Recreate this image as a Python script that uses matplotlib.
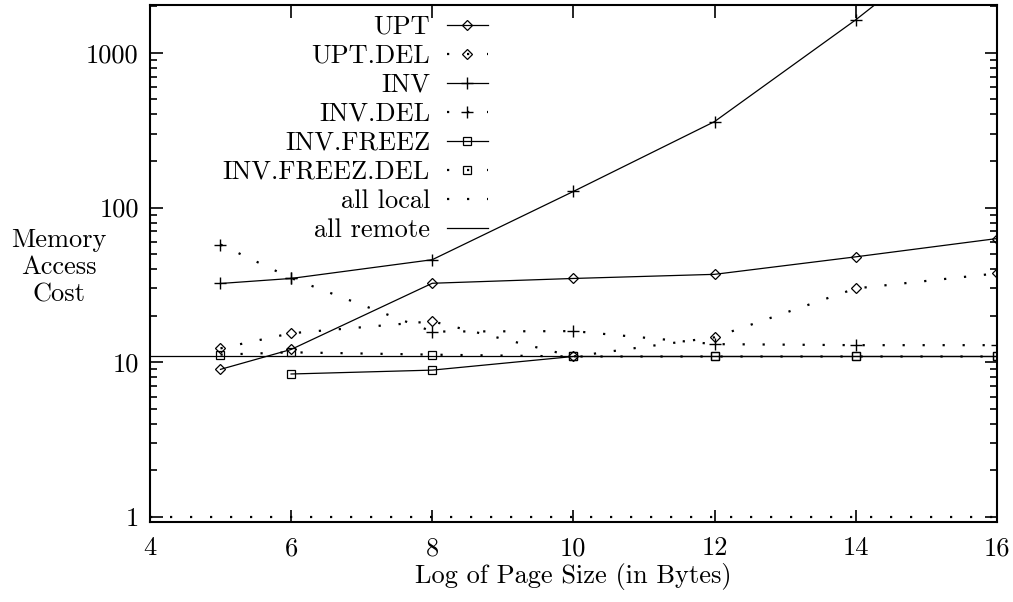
import numpy as np
import matplotlib
matplotlib.use("Agg")
import matplotlib.pyplot as plt

plt.rcParams['font.family'] = ['cmr10', 'DejaVu Serif']
plt.rcParams['mathtext.fontset'] = 'cm'
plt.rcParams['axes.formatter.use_mathtext'] = True

# page size (log2 bytes)
x_upt = [5, 6, 8, 10, 12, 14, 16]
upt = [9.0, 12.1, 32.4, 34.8, 37, 48, 63]
upt_del = [12.3, 15.4, 18.4, 10.9, 14.5, 30, 37.5]

x_inv = [5, 6, 8, 10, 12, 14, 16]
inv = [32.3, 34.8, 46, 127, 359, 1630, 8500]
inv_del = [57.6, 35, 15.8, 15.9, 13.1, 12.9, 12.9]

x_frz = [6, 8, 10, 12, 14, 16]
inv_freez = [8.4, 8.9, 10.9, 10.9, 10.9, 10.9]
x_frz_del = [5, 6, 8, 10, 12, 14, 16]
inv_freez_del = [11.2, 11.6, 11.2, 10.9, 10.9, 10.9, 10.9]

x_ref = [4, 16]
all_local = [1, 1]
all_remote = [11, 11]

fs = 19
fig = plt.figure(figsize=(10.13, 6.02), dpi=100)
ax = fig.add_axes([0.148, 0.133, 0.836, 0.859])

dot = (0, (1, 8))
lw = 0.9
ax.plot(x_upt, upt, '-', color='k', lw=lw, marker='D', ms=5, mfc='none', mew=0.9, label='UPT')
ax.plot(x_upt, upt_del, color='k', lw=1.6, ls=dot, marker='D', ms=5, mfc='none', mew=0.9, label='UPT.DEL')
ax.plot(x_inv, inv, '-', color='k', lw=lw, marker='+', ms=9, mew=1.0, label='INV')
ax.plot(x_inv, inv_del, color='k', lw=1.6, ls=dot, marker='+', ms=9, mew=1.0, label='INV.DEL')
ax.plot(x_frz, inv_freez, '-', color='k', lw=lw, marker='s', ms=6, mfc='none', mew=0.9, label='INV.FREEZ')
ax.plot(x_frz_del, inv_freez_del, color='k', lw=1.6, ls=dot, marker='s', ms=6, mfc='none', mew=0.9, label='INV.FREEZ.DEL')
ax.plot(x_ref, all_local, color='k', lw=1.6, ls=dot, label='all local')
ax.plot(x_ref, all_remote, '-', color='k', lw=lw, label='all remote')

ax.set_yscale('log')
ax.set_xlim(4, 16)
ax.set_ylim(0.93, 2040)
ax.set_xticks([4, 6, 8, 10, 12, 14, 16], labels=['4', '6', '8', '10', '12', '14', '16'])
ax.set_yticks([1, 10, 100, 1000], labels=['1', '10', '100', '1000'])
ax.tick_params(axis='both', which='major', direction='in', length=9, width=1.2,
               top=True, right=True, labelsize=fs)
ax.tick_params(axis='y', which='major', pad=8)
ax.tick_params(axis='x', which='major', pad=10.5)
ax.tick_params(axis='y', which='minor', direction='in', length=5, width=1.2, right=True)
ax.tick_params(axis='x', which='minor', bottom=False, top=False)
for s in ax.spines.values():
    s.set_linewidth(1.5)

ax.set_xlabel('Log of Page Size (in Bytes)', fontsize=fs, labelpad=2)
fig.text(0.058, 0.556, 'Memory\nAccess\nCost', ha='center', va='center', fontsize=fs, linespacing=1.2)

leg = ax.legend(loc='upper right', bbox_to_anchor=(0.399, 0.98), frameon=False, markerfirst=False,
                fontsize=fs, handlelength=1.55, handletextpad=0.64, labelspacing=0.2,
                numpoints=1, borderaxespad=0, borderpad=0)
for t in leg.get_texts():
    t.set_ha('right')
leg._legend_box.align = 'right'

fig.savefig('out.png', dpi=100)
